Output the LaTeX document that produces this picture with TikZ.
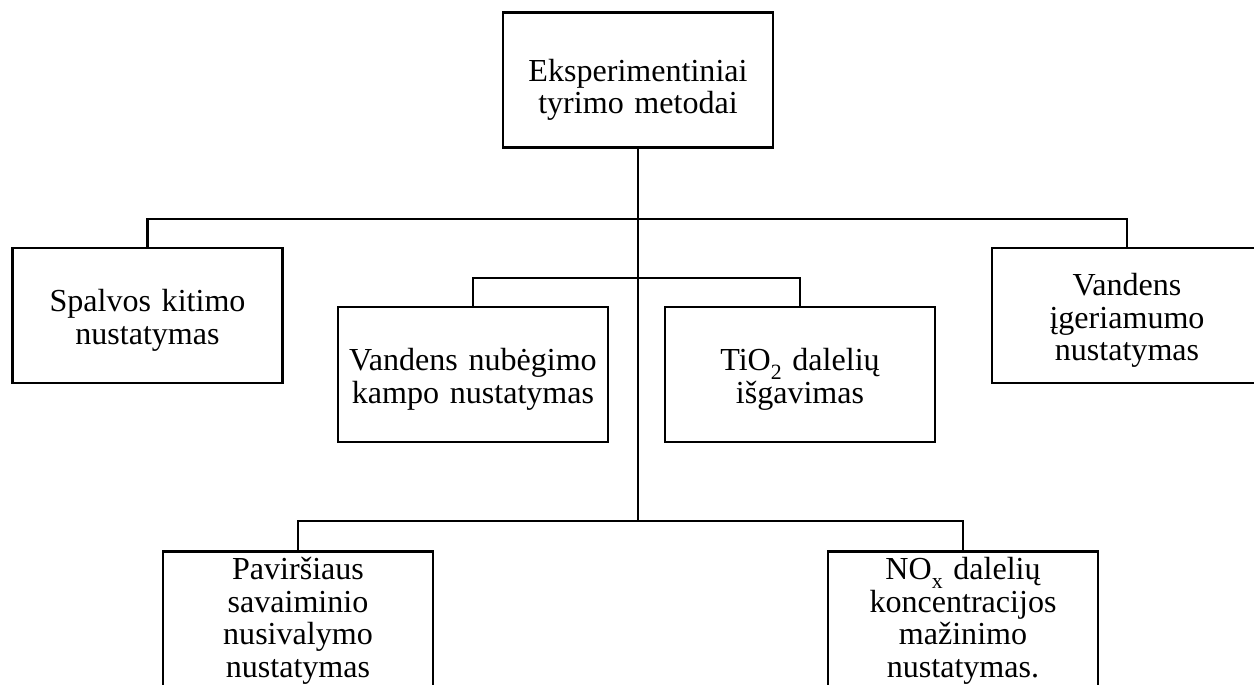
\documentclass[tikz,border=0pt]{standalone}
\usepackage{fontspec}
\setmainfont{Liberation Serif}
\newcommand{\lowsub}[1]{\raisebox{-0.28em}{\fontsize{15.5}{15.5}\selectfont #1}}
\newcommand{\topgap}[1]{\rule{0pt}{#1}}
\tikzset{
    block/.style={draw, line width=1.9pt, align=center, text width=6.4cm, inner xsep=0.15cm,
        minimum width=6.75cm, minimum height=3.375cm, font=\fontsize{22.8}{23.1}\selectfont},
    openblock/.style={block, minimum height=0pt, anchor=north, inner ysep=0.15cm, text depth=3.5cm},
    link/.style={line width=1.5pt},
}
\begin{document}
\begin{tikzpicture}[x=0.025cm, y=-0.025cm]
    \useasboundingbox (0,0) rectangle (1254,684);
    \clip (0,0) rectangle (1254,684);

    \node[block] (metodai) at (638,80) {\topgap{1.05cm}Eksperimentiniai\\tyrimo metodai};

    \node[block] (spal) at (147.5,315.5) {\topgap{0.8cm}Spalvos kitimo\\nustatymas};
    \node[block] (vig) at (1127,315.5) {\topgap{0.8cm}Vandens\\įgeriamumo\\nustatymas};
    \node[block] (nub) at (473,374.5) {\topgap{0.8cm}Vandens nubėgimo\\kampo nustatymas};
    \node[block] (tio) at (800,374.5) {\topgap{0.8cm}TiO\lowsub{2} dalelių\\išgavimas};

    \node[openblock] (pav) at (298,550) {Paviršiaus\\savaiminio\\nusivalymo\\nustatymas};
    \node[openblock] (nox) at (963,550) {NO\lowsub{x} dalelių\\koncentracijos\\mažinimo\\nustatymas.};

    \coordinate (j1) at (638,219);
    \coordinate (j2) at (638,278);
    \coordinate (j3) at (638,521);

    \draw[line width=2.1pt] (metodai.south) -- (j3);
    \draw[link] (spal.north) |- (j1) -| (vig.north);
    \draw[link] (nub.north) |- (j2) -| (tio.north);
    \draw[link] (pav.north) |- (j3) -| (nox.north);
\end{tikzpicture}
\end{document}
